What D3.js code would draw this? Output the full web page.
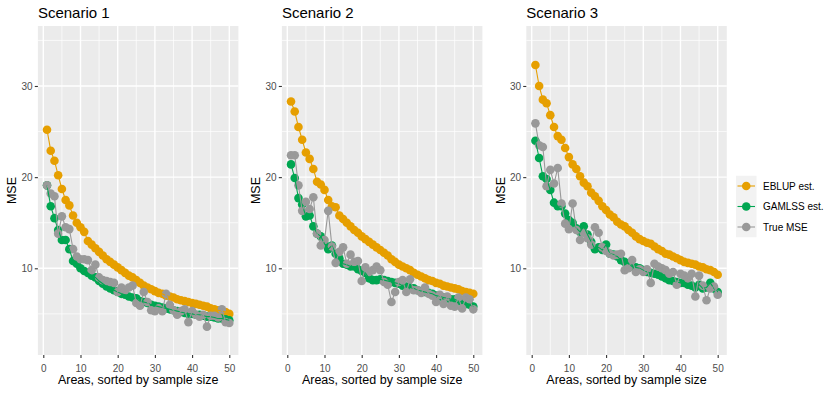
<!DOCTYPE html>
<meta charset="utf-8">
<title>MSE by scenario</title>
<script src="https://d3js.org/d3.v7.min.js"></script>
<style>
body {margin: 0; background: #fff;}
text {font-family: "Liberation Sans", Arial, sans-serif;}
</style>
<body>
<div id="my_dataviz"></div>
<script>
// areas 1..50, sorted by sample size
var areas = d3.range(1, 51);
var scenarios = ["Scenario 1", "Scenario 2", "Scenario 3"];
var seriesNames = ["EBLUP est.", "GAMLSS est.", "True MSE"];
var seriesColors = ["#E69F00", "#00A651", "#999999"];
var xTicks = [0, 10, 20, 30, 40, 50];
var yTicks = [10, 20, 30];

// Scenario 1
var eblup1 = [25.2, 22.9, 21.8, 20.2, 18.7, 17.5, 16.9, 15.8, 15.0, 14.5,
  14.0, 13.0, 12.6, 12.2, 11.8, 11.4, 11.0, 10.7, 10.4, 10.1,
  9.8, 9.5, 9.2, 9.0, 8.7, 8.4, 8.1, 7.9, 7.7, 7.5,
  7.3, 7.2, 7.0, 6.9, 6.8, 6.6, 6.5, 6.4, 6.3, 6.2,
  6.1, 6.0, 5.9, 5.8, 5.6, 5.5, 5.4, 5.3, 5.2, 5.0];
var gamlss1 = [19.1, 16.8, 15.5, 14.2, 13.1, 13.1, 12.1, 10.8, 10.5, 10.0,
  9.7, 9.5, 9.2, 9.0, 8.6, 8.3, 8.0, 7.8, 7.6, 7.4,
  7.2, 7.1, 6.9, 6.8, 6.7, 6.4, 6.3, 6.2, 6.0, 5.9,
  5.8, 5.7, 5.6, 5.5, 5.4, 5.3, 5.2, 5.1, 5.0, 5.0,
  4.9, 4.9, 4.8, 4.7, 4.7, 4.6, 4.5, 4.5, 4.4, 4.3];
var true1 = [19.1, 18.2, 17.9, 13.8, 15.7, 14.5, 14.3, 12.1, 11.3, 11.0,
  11.0, 10.9, 9.8, 10.4, 9.0, 8.7, 8.6, 8.5, 8.4, 7.4,
  7.9, 7.6, 7.9, 8.1, 6.2, 5.9, 7.4, 6.3, 5.4, 5.3,
  5.6, 5.3, 7.2, 6.0, 5.4, 4.9, 5.3, 5.5, 4.1, 5.3,
  4.9, 4.7, 4.9, 3.6, 4.8, 4.8, 4.6, 5.5, 4.1, 4.0];

// Scenario 2
var eblup2 = [28.3, 27.2, 25.5, 24.1, 22.7, 22.0, 20.9, 19.5, 19.2, 18.6,
  17.5, 16.8, 16.7, 15.8, 15.4, 15.0, 14.6, 14.2, 13.9, 13.5,
  13.2, 12.9, 12.6, 12.3, 12.0, 11.7, 11.4, 11.0, 10.7, 10.4,
  10.2, 10.0, 9.8, 9.5, 9.3, 9.1, 8.9, 8.7, 8.6, 8.4,
  8.3, 8.1, 8.0, 7.9, 7.8, 7.7, 7.5, 7.4, 7.3, 7.2];
var gamlss2 = [21.4, 19.9, 17.7, 17.0, 15.7, 15.8, 14.6, 13.8, 13.5, 12.7,
  12.1, 12.5, 11.6, 11.1, 10.5, 10.4, 10.2, 10.2, 9.9, 9.7,
  9.5, 8.9, 8.7, 8.7, 8.8, 8.7, 8.6, 8.5, 8.4, 8.3,
  8.1, 8.0, 7.9, 7.8, 7.6, 7.5, 7.4, 7.3, 7.2, 7.0,
  6.9, 6.8, 6.7, 6.6, 6.6, 6.4, 6.3, 6.1, 6.0, 5.8];
var true2 = [22.4, 22.4, 19.1, 16.3, 17.3, 16.5, 17.8, 13.8, 12.5, 13.1,
  16.3, 12.4, 10.6, 11.8, 12.3, 10.5, 11.5, 10.7, 10.8, 8.6,
  10.1, 9.6, 9.8, 10.2, 9.8, 8.5, 8.2, 6.3, 7.4, 8.5,
  8.7, 7.4, 8.8, 7.6, 7.6, 7.3, 7.9, 7.2, 7.0, 6.3,
  7.1, 6.1, 6.9, 5.9, 5.8, 6.8, 5.6, 6.8, 6.6, 5.5];

// Scenario 3
var eblup3 = [32.3, 30.0, 28.5, 28.1, 26.8, 25.5, 24.5, 24.1, 23.2, 22.2,
  21.4, 20.9, 20.1, 19.4, 19.0, 18.3, 17.9, 17.4, 16.8, 16.4,
  15.9, 15.6, 15.1, 14.8, 14.6, 14.2, 13.9, 13.5, 13.2, 13.0,
  12.8, 12.7, 12.4, 12.1, 11.9, 11.6, 11.5, 11.3, 11.1, 10.9,
  10.7, 10.6, 10.5, 10.4, 10.2, 10.1, 9.9, 9.8, 9.6, 9.3];
var gamlss3 = [24.0, 22.1, 20.1, 19.8, 18.6, 17.2, 16.8, 16.8, 16.0, 15.3,
  15.0, 14.4, 14.0, 14.6, 13.7, 12.9, 12.1, 12.3, 12.0, 12.6,
  11.6, 11.5, 11.3, 10.9, 10.7, 10.5, 10.2, 10.1, 10.0, 9.8,
  9.6, 9.5, 9.4, 9.3, 9.1, 8.9, 8.7, 8.6, 8.5, 8.4,
  8.4, 8.2, 8.1, 7.9, 8.2, 7.8, 7.9, 8.4, 7.8, 7.4];
var true3 = [25.9, 23.5, 23.3, 19.0, 20.8, 19.3, 21.0, 17.1, 14.9, 14.3,
  17.1, 14.2, 13.1, 13.9, 13.3, 12.6, 14.5, 13.9, 12.3, 11.9,
  11.6, 11.4, 11.5, 11.6, 9.8, 10.0, 10.9, 9.6, 9.9, 9.6,
  9.9, 8.4, 10.5, 10.2, 10.0, 9.8, 9.4, 9.6, 8.2, 9.4,
  9.2, 8.9, 9.4, 6.9, 9.2, 8.1, 6.5, 7.8, 8.0, 7.1];

var scenarioData = [
  [eblup1, gamlss1, true1],
  [eblup2, gamlss2, true2],
  [eblup3, gamlss3, true3]
];

var width = 830, height = 393;
var svg = d3.select("#my_dataviz")
  .append("svg")
    .attr("width", width)
    .attr("height", height);

var panelW = 200.5, panelTop = 26, panelBottom = 355;
var panelLefts = [37.9, 281.9, 526.3];

// same y range in every panel
var y = d3.scaleLinear()
  .domain([0.49, 36.58])
  .range([panelBottom, panelTop]);
var x = d3.scaleLinear()
  .domain([-1.45, 52.45])
  .range([0, panelW]);

scenarios.forEach(function(name, i) {
  var g = svg.append("g")
    .attr("transform", "translate(" + panelLefts[i] + ",0)");

  // panel background
  g.append("rect")
    .attr("x", 0).attr("y", panelTop)
    .attr("width", panelW).attr("height", panelBottom - panelTop)
    .attr("fill", "#EBEBEB");

  // minor grid
  g.selectAll(".xminor").data([5, 15, 25, 35, 45]).enter().append("line")
    .attr("x1", function(d) { return x(d); }).attr("x2", function(d) { return x(d); })
    .attr("y1", panelTop).attr("y2", panelBottom)
    .attr("stroke", "#fff").attr("stroke-width", 0.7);
  g.selectAll(".yminor").data([5, 15, 25, 35]).enter().append("line")
    .attr("y1", function(d) { return y(d); }).attr("y2", function(d) { return y(d); })
    .attr("x1", 0).attr("x2", panelW)
    .attr("stroke", "#fff").attr("stroke-width", 0.7);
  // major grid
  g.selectAll(".xmajor").data(xTicks).enter().append("line")
    .attr("x1", function(d) { return x(d); }).attr("x2", function(d) { return x(d); })
    .attr("y1", panelTop).attr("y2", panelBottom)
    .attr("stroke", "#fff").attr("stroke-width", 1.4);
  g.selectAll(".ymajor").data(yTicks).enter().append("line")
    .attr("y1", function(d) { return y(d); }).attr("y2", function(d) { return y(d); })
    .attr("x1", 0).attr("x2", panelW)
    .attr("stroke", "#fff").attr("stroke-width", 1.4);

  // axes
  var xAxis = g.append("g")
    .attr("transform", "translate(0," + panelBottom + ")")
    .call(d3.axisBottom(x).tickValues(xTicks).tickSize(3.1).tickPadding(6.5));
  var yAxis = g.append("g")
    .call(d3.axisLeft(y).tickValues(yTicks).tickSize(3.1).tickPadding(2.2));
  [xAxis, yAxis].forEach(function(a) {
    a.select(".domain").remove();
    a.selectAll(".tick line").attr("stroke", "#333333").attr("stroke-width", 1.1);
    a.selectAll(".tick text")
      .attr("fill", "#4D4D4D")
      .style("font-size", "10px")
      .style("font-family", "'Liberation Sans', Arial, sans-serif");
  });

  // titles
  g.append("text")
    .attr("x", 0).attr("y", 17.5)
    .style("font-size", "15px")
    .text(name);
  g.append("text")
    .attr("x", panelW / 2).attr("y", 384)
    .attr("text-anchor", "middle")
    .style("font-size", "12.5px")
    .text("Areas, sorted by sample size");
  g.append("text")
    .attr("transform", "translate(-21.7," + ((panelTop + panelBottom) / 2) + ") rotate(-90)")
    .attr("text-anchor", "middle")
    .style("font-size", "12.5px")
    .text("MSE");

  // points first, then lines on top
  var line = d3.line()
    .x(function(d, k) { return x(areas[k]); })
    .y(function(d) { return y(d); });

  scenarioData[i].forEach(function(values, s) {
    g.append("g")
      .selectAll("circle")
      .data(values)
      .enter()
      .append("circle")
        .attr("cx", function(d, k) { return x(areas[k]); })
        .attr("cy", function(d) { return y(d); })
        .attr("r", 4.3)
        .attr("fill", seriesColors[s]);
  });
  scenarioData[i].forEach(function(values, s) {
    g.append("path")
      .datum(values)
      .attr("d", line)
      .attr("fill", "none")
      .attr("stroke", seriesColors[s])
      .attr("stroke-width", 1.1);
  });
});

// legend
var legend = svg.append("g").attr("transform", "translate(736,175.75)");
var keyH = 20.5;
legend.append("rect")
  .attr("width", 20.5).attr("height", keyH * seriesNames.length)
  .attr("fill", "#F2F2F2");
seriesNames.forEach(function(n, s) {
  var cy = keyH * s + keyH / 2;
  legend.append("line")
    .attr("x1", 1.5).attr("x2", 19).attr("y1", cy).attr("y2", cy)
    .attr("stroke", seriesColors[s]).attr("stroke-width", 1.1);
  legend.append("circle")
    .attr("cx", 10.25).attr("cy", cy).attr("r", 4.3)
    .attr("fill", seriesColors[s]);
  legend.append("text")
    .attr("x", 27).attr("y", cy + 3.6)
    .style("font-size", "10px")
    .text(n);
});
</script>
